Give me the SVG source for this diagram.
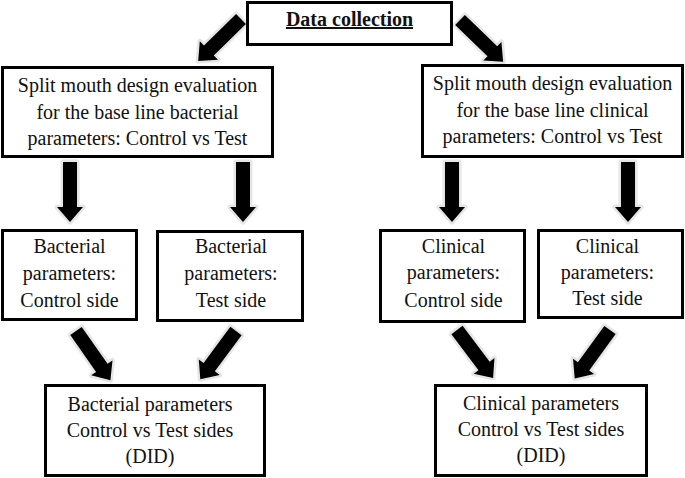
<svg xmlns="http://www.w3.org/2000/svg" xmlns:xlink="http://www.w3.org/1999/xlink" width="685" height="478" viewBox="0 0 685 478">
  <style>
    .box { fill: #ffffff; stroke: #000000; stroke-width: 3; }
    .t { font-family: "Liberation Serif", "Times New Roman", serif; font-size: 20px; fill: #111111; text-anchor: middle; }
    .title { font-weight: bold; text-decoration: underline; }
    .halo { fill: #e6e6e6; stroke: #e6e6e6; stroke-width: 5; stroke-linejoin: round; }
    .arr { fill: #000000; }
  </style>
  <defs>
    <path id="arrow" d="M-7,0 H7 V45 H13 L0,60 L-13,45 H-7 Z"/>
  </defs>
  <rect width="685" height="478" fill="#ffffff"/>

  <g id="connectors">
    <g class="halo">
      <use xlink:href="#arrow" transform="translate(241,19) rotate(45.5)"/>
      <use xlink:href="#arrow" transform="translate(460,20) rotate(-46)"/>
      <use xlink:href="#arrow" transform="translate(70,162)"/>
      <use xlink:href="#arrow" transform="translate(243,162)"/>
      <use xlink:href="#arrow" transform="translate(452,162)"/>
      <use xlink:href="#arrow" transform="translate(628,162)"/>
      <use xlink:href="#arrow" transform="translate(76,331) rotate(-35)"/>
      <use xlink:href="#arrow" transform="translate(236,331) rotate(36.5)"/>
      <use xlink:href="#arrow" transform="translate(457,330) rotate(-37)"/>
      <use xlink:href="#arrow" transform="translate(610,330) rotate(36)"/>
    </g>
    <g class="arr">
      <use xlink:href="#arrow" transform="translate(241,19) rotate(45.5)"/>
      <use xlink:href="#arrow" transform="translate(460,20) rotate(-46)"/>
      <use xlink:href="#arrow" transform="translate(70,162)"/>
      <use xlink:href="#arrow" transform="translate(243,162)"/>
      <use xlink:href="#arrow" transform="translate(452,162)"/>
      <use xlink:href="#arrow" transform="translate(628,162)"/>
      <use xlink:href="#arrow" transform="translate(76,331) rotate(-35)"/>
      <use xlink:href="#arrow" transform="translate(236,331) rotate(36.5)"/>
      <use xlink:href="#arrow" transform="translate(457,330) rotate(-37)"/>
      <use xlink:href="#arrow" transform="translate(610,330) rotate(36)"/>
    </g>
  </g>

  <g id="data-collection">
    <rect class="box" x="247.5" y="2.5" width="204" height="42"/>
    <text class="t title" x="349.5" y="26">Data collection</text>
  </g>

  <g id="split-bacterial">
    <rect class="box" x="2.5" y="67.5" width="270" height="89"/>
    <text class="t" x="137.5" y="92">Split mouth design evaluation</text>
    <text class="t" x="137.5" y="118.5">for the base line bacterial</text>
    <text class="t" x="137.5" y="145">parameters: Control vs Test</text>
  </g>

  <g id="split-clinical">
    <rect class="box" x="422.5" y="65.5" width="260" height="91"/>
    <text class="t" x="552.5" y="90">Split mouth design evaluation</text>
    <text class="t" x="552.5" y="117">for the base line clinical</text>
    <text class="t" x="552.5" y="143">parameters: Control vs Test</text>
  </g>

  <g id="bacterial-control">
    <rect class="box" x="2.5" y="230.5" width="134" height="89"/>
    <text class="t" x="69.5" y="253">Bacterial</text>
    <text class="t" x="69.5" y="280">parameters:</text>
    <text class="t" x="69.5" y="307">Control side</text>
  </g>

  <g id="bacterial-test">
    <rect class="box" x="157.5" y="231.5" width="145" height="89"/>
    <text class="t" x="231" y="253">Bacterial</text>
    <text class="t" x="231" y="280">parameters:</text>
    <text class="t" x="231" y="307">Test side</text>
  </g>

  <g id="clinical-control">
    <rect class="box" x="380.5" y="230.5" width="144" height="91"/>
    <text class="t" x="453.5" y="253">Clinical</text>
    <text class="t" x="453.5" y="279">parameters:</text>
    <text class="t" x="453.5" y="307">Control side</text>
  </g>

  <g id="clinical-test">
    <rect class="box" x="538.5" y="230.5" width="144" height="87"/>
    <text class="t" x="607.5" y="253">Clinical</text>
    <text class="t" x="607.5" y="279">parameters:</text>
    <text class="t" x="607.5" y="305">Test side</text>
  </g>

  <g id="bacterial-did">
    <rect class="box" x="45.5" y="385.5" width="219" height="90"/>
    <text class="t" x="150" y="411">Bacterial parameters</text>
    <text class="t" x="150" y="437">Control vs Test sides</text>
    <text class="t" x="150" y="463">(DID)</text>
  </g>

  <g id="clinical-did">
    <rect class="box" x="435.5" y="385.5" width="211" height="90"/>
    <text class="t" x="541" y="410">Clinical parameters</text>
    <text class="t" x="541" y="436">Control vs Test sides</text>
    <text class="t" x="541" y="462">(DID)</text>
  </g>
</svg>
